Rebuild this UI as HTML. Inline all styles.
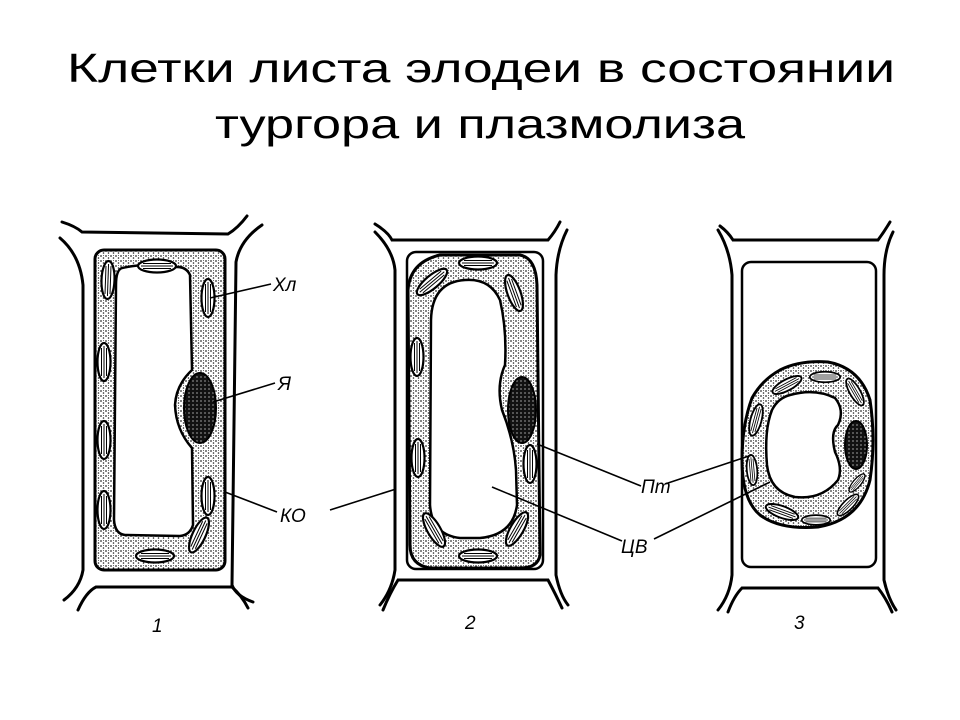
<!DOCTYPE html>
<html><head><meta charset="utf-8"><style>
html,body{margin:0;padding:0;background:#fff;}
svg{display:block}
</style></head><body>
<svg width="960" height="720" viewBox="0 0 960 720" xmlns="http://www.w3.org/2000/svg">
<defs>
<pattern id="st" width="5" height="5" patternUnits="userSpaceOnUse">
<rect width="5" height="5" fill="#fff"/>
<circle cx="1" cy="1" r="0.85" fill="#222"/><circle cx="3.5" cy="3" r="0.8" fill="#222"/><circle cx="3.5" cy="0.5" r="0.5" fill="#444"/>
</pattern>
<pattern id="nu" width="4" height="4" patternUnits="userSpaceOnUse">
<rect width="4" height="4" fill="#111"/>
<circle cx="1" cy="1" r="0.6" fill="#fff"/>
</pattern>
<g id="chl"><ellipse cx="0" cy="0" rx="19" ry="6.5" fill="#fff" stroke="#000" stroke-width="2.2"/>
<line x1="-14" y1="-2.5" x2="14" y2="-2.5" stroke="#000" stroke-width="1"/><line x1="-16" y1="0" x2="16" y2="0" stroke="#000" stroke-width="1"/><line x1="-14" y1="2.5" x2="14" y2="2.5" stroke="#000" stroke-width="1"/></g>
</defs>
<g font-family="'Liberation Sans','DejaVu Sans',sans-serif" font-size="41" fill="#000" text-anchor="middle">
<text x="481" y="82" textLength="828" lengthAdjust="spacingAndGlyphs">Клетки листа элодеи в состоянии</text>
<text x="480" y="138" textLength="530" lengthAdjust="spacingAndGlyphs">тургора и плазмолиза</text>
</g>
<g fill="none" stroke="#000" stroke-width="3" stroke-linecap="round">
<path d="M62,222 Q75,226 82,232 L228,234 Q238,228 247,216"/>
<path d="M60,238 Q80,255 83,285 L83,570 Q80,588 64,600"/>
<path d="M262,225 Q240,240 236,262 L232,585 Q236,596 253,602"/>
<path d="M78,610 Q86,592 96,587 L232,587 Q242,596 248,608"/>
<path d="M375,224 Q388,232 392,240 L548,240 Q555,232 560,222"/>
<path d="M375,232 Q393,250 395,270 L395,570 Q392,590 380,605"/>
<path d="M567,230 Q557,250 556,275 L556,575 Q560,595 568,605"/>
<path d="M383,610 Q390,593 398,580 L548,580 Q556,595 562,608"/>
<rect x="407" y="252" width="136" height="317" rx="9" stroke-width="2.5"/>
<path d="M720,226 Q728,232 733,240 L878,240 Q884,232 890,222"/>
<path d="M718,230 Q730,250 732,275 L732,575 Q730,595 718,610"/>
<path d="M893,232 Q884,250 884,275 L884,580 Q888,598 896,610"/>
<path d="M728,612 Q734,596 742,588 L878,588 Q886,598 892,612"/>
<rect x="742" y="262" width="134" height="305" rx="9" stroke-width="2.5"/>
</g>
<rect x="95" y="250" width="130" height="320" rx="9" fill="url(#st)" stroke="#000" stroke-width="3"/>
<path d="M122,268 Q150,262 170,268 Q185,264 190,275 L192,370 Q176,385 175,405 Q176,430 192,448 L193,525 Q190,535 180,536 L125,535 Q115,534 114,520 L116,285 Q116,270 122,268 Z" fill="#fff" stroke="#000" stroke-width="2.5"/>
<ellipse cx="200" cy="408" rx="16" ry="35" fill="url(#nu)" stroke="#000" stroke-width="2"/>
<use href="#chl" transform="translate(157,266)"/>
<use href="#chl" transform="translate(208,298) rotate(90)"/>
<use href="#chl" transform="translate(108,280) rotate(92)"/>
<use href="#chl" transform="translate(104,362) rotate(90)"/>
<use href="#chl" transform="translate(104,440) rotate(90)"/>
<use href="#chl" transform="translate(104,510) rotate(90)"/>
<use href="#chl" transform="translate(208,496) rotate(90)"/>
<use href="#chl" transform="translate(199,535) rotate(-65)"/>
<use href="#chl" transform="translate(155,556)"/>
<path d="M440,255 L520,255 Q536,258 537,285 L540,555 Q538,568 520,568 L430,568 Q410,565 410,545 L408,290 Q410,262 440,255 Z" fill="url(#st)" stroke="#000" stroke-width="3"/>
<path d="M465,280 Q490,278 500,300 Q507,330 505,365 Q496,385 502,410 Q514,440 516,470 L517,505 Q513,535 480,538 L460,538 Q432,535 430,505 L431,320 Q432,282 465,280 Z" fill="#fff" stroke="#000" stroke-width="2.5"/>
<ellipse cx="522" cy="410" rx="14" ry="33" fill="url(#nu)" stroke="#000" stroke-width="2"/>
<use href="#chl" transform="translate(478,263)"/>
<use href="#chl" transform="translate(432,282) rotate(-40)"/>
<use href="#chl" transform="translate(514,293) rotate(70)"/>
<use href="#chl" transform="translate(417,357) rotate(90)"/>
<use href="#chl" transform="translate(418,458) rotate(90)"/>
<use href="#chl" transform="translate(530,464) rotate(90)"/>
<use href="#chl" transform="translate(434,530) rotate(60)"/>
<use href="#chl" transform="translate(517,529) rotate(-60)"/>
<use href="#chl" transform="translate(478,556)"/>
<path d="M780,370 Q800,360 828,362 Q860,368 870,400 Q876,440 870,480 Q860,520 818,527 Q780,530 760,515 Q742,500 742,460 Q742,425 752,398 Q762,380 780,370 Z" fill="url(#st)" stroke="#000" stroke-width="3"/>
<path d="M790,395 Q815,388 835,398 Q845,410 838,425 Q830,432 835,452 Q843,468 838,480 Q822,500 795,497 Q770,492 767,465 Q764,430 772,410 Q778,398 790,395 Z" fill="#fff" stroke="#000" stroke-width="2.5"/>
<ellipse cx="856" cy="445" rx="11" ry="24" fill="url(#nu)" stroke="#000" stroke-width="2"/>
<use href="#chl" transform="translate(787,385) rotate(-28) scale(0.85)"/>
<use href="#chl" transform="translate(825,377) scale(0.8)"/>
<use href="#chl" transform="translate(855,392) rotate(60) scale(0.8)"/>
<use href="#chl" transform="translate(756,420) rotate(-75) scale(0.85)"/>
<use href="#chl" transform="translate(752,470) rotate(85) scale(0.8)"/>
<use href="#chl" transform="translate(857,483) rotate(-50) scale(0.6)"/>
<use href="#chl" transform="translate(848,505) rotate(-45) scale(0.75)"/>
<use href="#chl" transform="translate(782,512) rotate(20) scale(0.9)"/>
<use href="#chl" transform="translate(816,520) scale(0.75)"/>
<g stroke="#000" stroke-width="1.6" fill="none">
<line x1="271" y1="284" x2="210" y2="298"/>
<line x1="275" y1="383" x2="213" y2="402"/>
<line x1="277" y1="512" x2="225" y2="492"/>
<line x1="330" y1="510" x2="396" y2="489"/>
<line x1="641" y1="486" x2="537" y2="444"/>
<line x1="665" y1="484" x2="752" y2="455"/>
<line x1="622" y1="541" x2="492" y2="487"/>
<line x1="654" y1="539" x2="770" y2="482"/>
</g>
<g font-family="'Liberation Sans','DejaVu Sans',sans-serif" font-style="italic" font-size="19" fill="#000">
<text x="273" y="291">Хл</text>
<text x="278" y="390">Я</text>
<text x="280" y="522">КО</text>
<text x="641" y="493">Пт</text>
<text x="621" y="553">ЦВ</text>
<text x="152" y="632">1</text>
<text x="465" y="629">2</text>
<text x="794" y="629">3</text>
</g>
</svg>
</body></html>
